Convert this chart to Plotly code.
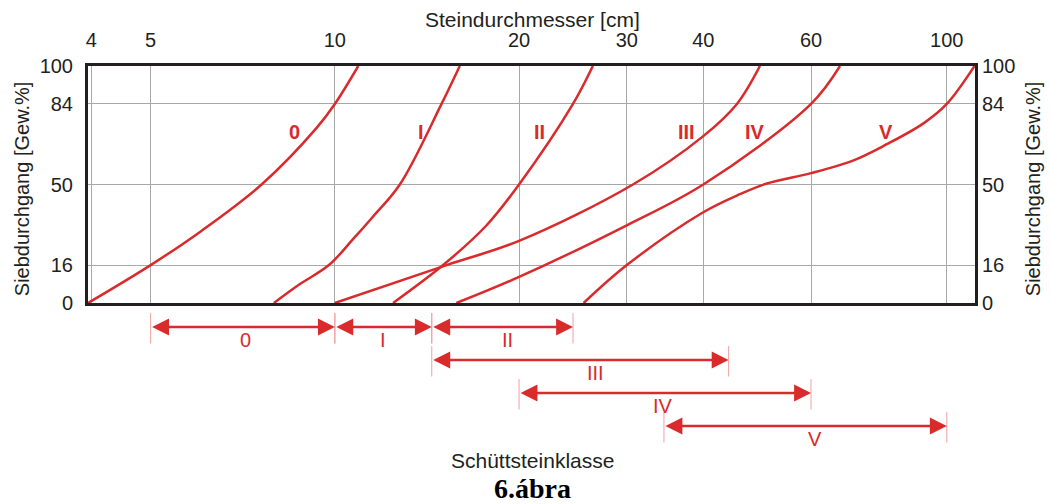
import numpy as np
import plotly.graph_objects as go

# ---------------- data ----------------
curve_names = ["0", "I", "II", "III", "IV", "V"]
d0 = [3.95, 5.0, 6.02, 7.59, 9.33, 10.0, 10.92]
p0 = [0, 16, 30, 50, 73.8, 84, 100]
dI = [7.95, 8.71, 9.78, 10.68, 11.51, 12.77, 14.94, 16.0]
pI = [0, 7.5, 16, 26.6, 36.1, 50, 84, 100]
dII = [12.45, 15.03, 17.7, 20.0, 24.5, 26.4]
pII = [0, 16, 32.8, 50, 84, 100]
dIII = [10.0, 15.23, 20.0, 30.7, 40.0, 45.4, 49.5]
pIII = [0, 16, 26.2, 50, 70.4, 84, 100]
dIV = [15.8, 20.0, 30.0, 40.0, 60.0, 66.9]
pIV = [0, 11, 32.8, 50, 84, 100]
dV = [25.5, 30.0, 40.0, 45.9, 50.8, 60.0, 70.4, 79.8, 91.6, 100.0, 111.0]
pV = [0, 16, 38.3, 45.9, 50.4, 54.8, 60.2, 67, 75.8, 84, 100]
curve_d = [d0, dI, dII, dIII, dIV, dV]
curve_p = [p0, pI, pII, pIII, pIV, pV]
curve_label_d = [8.6, 13.81, 21.58, 37.5, 48.6, 79.6]
curve_label_p = [72, 72, 72, 72, 72, 72]

class_min = [5, 10, 14.4, 14.4, 20, 34.5]
class_max = [10, 14.4, 24.5, 44, 60, 100]
class_row = [0, 0, 0, 1, 2, 3]
class_label_d = [7.14, 11.98, 19.15, 26.7, 34.4, 60.9]

x_ticks = [4, 5, 10, 20, 30, 40, 60, 100]
y_ticks = [0, 16, 50, 84, 100]

# ---------------- style ----------------
RED = "#d92a2c"
TICKRED = "#f2a0a0"
DARK = "#231f20"
FONT = "Liberation Sans, Arial, sans-serif"

fig = go.Figure()

for name, d, p in zip(curve_names, curve_d, curve_p):
    fig.add_trace(go.Scatter(x=d, y=p, mode="lines", name=name,
                             line=dict(color=RED, width=2.5, shape="spline",
                                       smoothing=1.0, simplify=False),
                             xaxis="x", yaxis="y", showlegend=False, hoverinfo="skip"))

# vertical end ticks of the class ranges (lower panel)
tx, ty = [], []
for lo, hi, r in zip(class_min, class_max, class_row):
    for v in (lo, hi):
        tx += [v, v, None]
        ty += [r - 0.42, r + 0.5, None]
fig.add_trace(go.Scatter(x=tx, y=ty, mode="lines", line=dict(color=TICKRED, width=1),
                         xaxis="x2", yaxis="y2", showlegend=False, hoverinfo="skip"))

annotations = []
for lo, hi, r in zip(class_min, class_max, class_row):
    annotations.append(dict(x=np.log10(hi), y=r, ax=np.log10(lo), ay=r,
                            xref="x2", yref="y2", axref="x2", ayref="y2",
                            text="", showarrow=True, arrowhead=2, arrowside="end+start",
                            arrowsize=1.3, arrowwidth=2.6, arrowcolor=RED,
                            standoff=0, startstandoff=0))
for name, xd, r in zip(curve_names, class_label_d, class_row):
    annotations.append(dict(x=np.log10(xd), y=r + 0.4, xref="x2", yref="y2",
                            text=name, showarrow=False, xanchor="center", yanchor="middle",
                            font=dict(family=FONT, size=20, color=RED)))
for name, xd, yp in zip(curve_names, curve_label_d, curve_label_p):
    annotations.append(dict(x=np.log10(xd), y=yp, xref="x", yref="y",
                            text="<b>" + name + "</b>", showarrow=False,
                            xanchor="center", yanchor="middle",
                            font=dict(family=FONT, size=20, color=RED)))

annotations += [
    dict(x=0.5006, y=1.124, xref="paper", yref="paper", text="Steindurchmesser [cm]",
         xanchor="center", yanchor="middle",
         showarrow=False, font=dict(family=FONT, size=21, color=DARK)),
    dict(x=-0.0744, y=0.675, xref="paper", yref="paper", text="Siebdurchgang [Gew.%]",
         xanchor="center", yanchor="middle",
         textangle=-90, showarrow=False, font=dict(family=FONT, size=20, color=DARK)),
    dict(x=1.0654, y=0.675, xref="paper", yref="paper", text="Siebdurchgang [Gew.%]",
         xanchor="center", yanchor="middle",
         textangle=-90, showarrow=False, font=dict(family=FONT, size=20, color=DARK)),
    dict(x=0.5006, y=-0.0396, xref="paper", yref="paper", text="Schüttsteinklasse",
         xanchor="center", yanchor="middle",
         showarrow=False, font=dict(family=FONT, size=21, color=DARK)),
    dict(x=0.5006, y=-0.1135, xref="paper", yref="paper", text="<b>6.ábra</b>",
         xanchor="center", yanchor="middle",
         showarrow=False, font=dict(family="Liberation Serif, Times New Roman, serif",
                                    size=28, color="#000000")),
]

main_bottom = (445 - 303) / 379.0
xrange_log = [np.log10(3.95), np.log10(111.2)]

fig.update_layout(
    width=1050, height=504,
    margin=dict(l=88, r=75, t=66, b=59),
    paper_bgcolor="white", plot_bgcolor="white",
    showlegend=False,
    font=dict(family=FONT, color=DARK),
    xaxis=dict(type="log", range=xrange_log, side="top",
               anchor="y", tickvals=x_ticks, ticktext=[str(v) for v in x_ticks],
               showgrid=True, gridcolor="#a8a8a8", gridwidth=1,
               showline=True, linecolor=DARK, linewidth=3, mirror=True,
               ticks="outside", ticklen=8, tickcolor="rgba(0,0,0,0)",
               tickfont=dict(size=20, color=DARK), zeroline=False),
    xaxis2=dict(type="log", range=xrange_log, anchor="y2", visible=False,
                showgrid=False, zeroline=False),
    yaxis=dict(domain=[main_bottom, 1], range=[0, 100], tickvals=y_ticks,
               showgrid=True, gridcolor="#a8a8a8", gridwidth=1,
               showline=True, linecolor=DARK, linewidth=3, mirror=True,
               ticks="outside", ticklen=8, tickcolor="rgba(0,0,0,0)",
               tickfont=dict(size=20, color=DARK), zeroline=False),
    yaxis3=dict(overlaying="y", side="right", anchor="x", range=[0, 100],
                tickvals=y_ticks, showgrid=False, showline=False, zeroline=False,
                ticks="outside", ticklen=2, tickcolor="rgba(0,0,0,0)",
                tickfont=dict(size=20, color=DARK)),
    yaxis2=dict(domain=[0, main_bottom], range=[3.576, -0.727], visible=False,
                anchor="x2", showgrid=False),
    annotations=annotations,
)

fig.add_trace(go.Scatter(x=[10], y=[50], yaxis="y3", xaxis="x", mode="markers",
                         marker=dict(opacity=0), showlegend=False, hoverinfo="skip"))

fig.write_html("out.html")
